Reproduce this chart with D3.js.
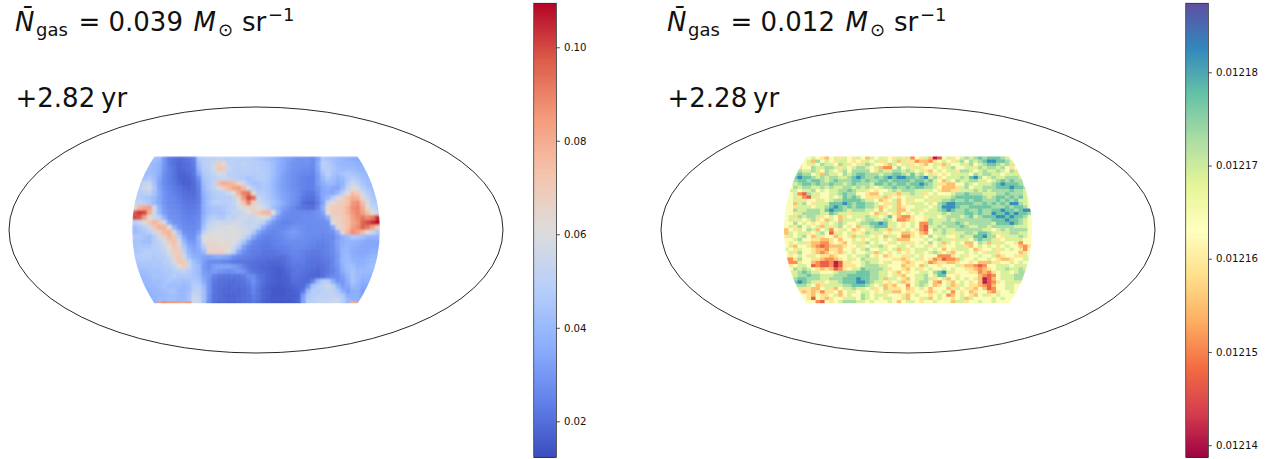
<!DOCTYPE html>
<html><head><meta charset="utf-8">
<script src="https://cdn.jsdelivr.net/npm/d3@7"></script>
<style>html,body{margin:0;padding:0;background:#fff}svg{display:block}
text{font-family:"DejaVu Sans",sans-serif;fill:#111}</style></head>
<body><svg id="c" width="1279" height="459"></svg>
<script>
// Left map: gas density in thousandths of M_sun/sr
const gasRows = [
[42,42,42,42,42,40,29,22,20,19,20,21,24,46,48,49,50,52,50,48,50,50,48,49,47,46,44,42,40,37,34,32,30,28,28,28,26,32,46,44,42,40,38,37,35,34,34,34,34,34],
[42,42,42,42,40,38,29,23,20,18,19,20,23,43,49,51,54,68,64,50,49,48,52,50,49,48,47,45,42,37,34,31,29,28,28,28,26,35,50,47,44,40,39,38,38,36,36,36,36,36],
[42,42,42,42,40,37,29,24,21,18,19,20,22,40,48,50,56,72,70,54,50,48,50,49,48,49,47,46,42,37,34,31,29,28,27,27,26,34,48,48,45,42,40,40,40,38,38,38,38,38],
[42,42,42,42,40,36,28,24,21,18,18,19,22,35,46,49,53,58,56,50,49,48,49,49,48,48,48,46,42,37,33,30,28,27,26,26,25,32,44,50,44,42,44,46,44,42,40,40,40,40],
[44,44,44,46,42,34,27,24,21,18,17,18,20,28,44,47,50,52,54,52,50,48,47,44,46,49,48,46,41,36,32,30,28,26,25,24,24,31,40,46,42,38,40,45,48,46,42,40,40,40],
[48,48,52,54,44,33,27,24,22,19,17,17,19,25,42,46,52,76,80,78,76,66,56,47,44,44,47,45,40,35,32,30,28,26,25,24,24,31,36,40,40,36,38,48,54,50,45,42,40,40],
[50,50,55,58,46,34,28,25,23,21,19,18,19,24,40,46,50,58,68,76,82,84,76,58,48,45,46,45,40,35,32,30,28,27,25,24,24,29,34,36,34,33,40,52,62,58,48,44,42,42],
[48,48,50,52,44,35,29,26,24,22,20,19,19,23,38,44,47,49,50,55,62,80,90,92,64,48,48,45,40,36,33,31,29,27,24,22,22,27,34,35,34,40,50,60,74,70,56,48,44,44],
[48,48,46,44,40,34,29,26,25,23,21,20,20,23,36,42,46,48,48,48,52,66,86,100,94,54,49,46,42,37,33,31,29,26,22,21,20,25,34,38,48,58,68,74,80,78,64,52,46,44],
[52,52,50,46,40,34,29,26,25,24,22,21,21,23,36,44,48,49,48,48,52,60,74,90,68,56,52,48,44,40,35,31,28,25,20,18,18,23,33,54,64,68,70,74,86,88,76,58,48,46],
[64,78,82,84,56,38,30,27,26,25,23,22,22,24,36,42,44,44,46,48,50,56,60,64,66,62,56,50,42,37,32,29,26,23,21,20,20,25,36,64,70,70,72,78,88,90,80,64,52,48],
[98,102,100,80,56,40,31,28,27,26,24,23,23,25,36,42,44,44,44,48,52,52,56,60,66,70,76,78,62,38,29,27,26,26,26,26,27,28,33,62,70,70,72,78,86,90,84,74,62,56],
[100,98,84,62,56,50,38,29,28,27,25,24,25,26,38,46,48,46,46,52,50,54,56,54,54,58,60,56,40,30,27,26,26,26,27,27,27,28,29,36,66,68,70,74,84,88,92,88,92,104],
[50,54,60,70,78,72,56,35,29,28,26,25,25,27,40,50,54,56,54,54,56,58,54,52,54,54,50,38,30,27,25,25,26,27,27,27,27,27,27,28,60,66,70,74,82,86,96,100,104,109],
[42,46,50,56,70,78,78,62,38,30,27,26,26,28,44,54,56,58,58,60,60,58,56,54,54,48,36,29,27,26,26,27,29,29,28,27,27,27,27,27,34,64,68,74,84,88,96,92,84,72],
[42,44,46,50,56,66,76,78,58,40,28,27,27,32,50,58,60,60,60,62,60,58,58,56,46,34,28,26,25,26,28,30,31,30,28,27,27,27,26,27,28,36,66,78,88,84,76,62,54,46],
[46,46,44,42,48,56,66,76,72,50,34,28,28,38,62,62,62,62,60,60,60,60,54,46,34,27,25,24,25,26,27,29,30,29,28,27,26,26,25,26,26,31,36,40,46,44,42,38,38,38],
[44,44,42,42,48,52,58,68,74,58,40,31,30,36,58,64,64,62,62,64,60,54,44,32,26,24,23,23,24,25,26,27,27,27,27,26,25,24,24,25,27,33,36,38,38,36,35,34,34,34],
[44,46,46,46,48,50,54,62,72,66,46,35,32,36,48,66,66,66,64,62,56,46,32,26,24,23,22,22,23,24,24,25,26,26,26,25,24,23,23,24,26,32,37,38,36,35,34,34,34,34],
[46,46,48,48,48,48,52,58,70,70,50,38,34,35,40,66,66,68,66,60,50,34,27,24,23,23,21,21,21,22,23,24,25,25,24,23,22,22,23,24,26,31,38,39,35,34,34,34,36,36],
[46,48,48,48,46,48,48,54,66,72,56,42,36,35,33,32,34,35,34,32,27,25,24,23,22,21,20,20,20,20,20,22,24,24,23,22,21,21,22,23,25,30,38,40,36,35,35,36,38,38],
[46,46,46,46,46,46,48,50,58,72,70,52,42,37,31,27,26,26,25,24,22,21,21,21,20,19,19,18,18,18,19,21,23,23,23,21,20,20,21,22,25,30,38,40,38,36,36,38,40,40],
[44,44,44,44,46,46,46,48,52,62,68,54,44,40,30,27,31,33,33,33,31,29,24,21,20,19,18,18,17,17,18,20,22,22,22,21,20,19,20,22,25,29,37,42,42,38,38,40,42,42],
[42,42,42,44,44,44,46,46,48,50,52,48,44,40,31,29,31,29,28,27,28,30,29,24,21,20,19,18,17,16,17,19,21,22,21,20,19,18,20,22,24,28,35,40,44,40,40,40,40,40],
[42,40,40,42,44,44,44,46,48,46,46,46,44,42,33,30,24,22,21,21,21,21,23,27,27,22,20,18,17,16,17,18,21,21,20,19,18,18,20,24,26,27,32,38,44,40,38,38,38,38],
[40,40,40,40,42,42,44,46,44,44,42,44,46,44,35,29,22,20,20,19,19,20,21,24,28,23,20,18,17,16,17,17,20,20,19,19,25,40,48,48,36,29,30,36,44,40,36,36,36,36],
[38,38,38,40,40,42,44,42,42,42,40,42,48,48,40,29,21,20,19,18,19,19,20,22,26,22,19,17,16,15,16,17,18,19,19,27,44,48,52,54,50,38,31,34,40,38,34,34,34,34],
[38,38,38,38,40,40,42,44,44,40,40,42,50,50,42,29,21,19,18,18,18,18,19,21,25,21,18,17,15,15,15,16,17,18,22,40,48,48,50,52,52,46,36,31,36,36,32,32,32,32],
[38,38,38,38,38,40,40,42,42,40,40,44,54,52,42,28,20,19,18,17,17,18,19,20,23,21,18,16,15,15,15,16,16,17,31,46,48,50,50,50,52,50,46,36,36,36,32,32,32,32],
[38,38,38,38,38,40,40,42,42,40,40,44,56,54,42,27,20,18,18,17,17,18,19,20,22,20,17,16,15,15,15,15,16,18,33,48,50,52,52,52,54,56,48,40,38,36,32,32,32,32]
];
// Thin bright strip along the bottom edge of the left map
const gasBottomStrip = [38,38,38,38,38,84,88,86,86,84,84,86,56,54,42,27,20,18,18,17,17,18,19,20,22,20,17,16,15,15,15,15,16,18,33,48,50,52,52,52,54,56,48,40,80,82,32,32,32,32];

// Right map: each digit is an index into noiseLevels
const noiseLevels = [0.012141,0.012147,0.012151,0.012155,0.012159,0.012164,0.012169,0.012173,0.012177,0.012182];
const noiseRows = [
"55565 56543 56465 46536 56454 64625 46301 56456 76787 88876 55555",
"55655 63756 54665 45465 64656 36442 33245 65467 57678 99887 65555",
"55665 46576 65764 54676 55436 54645 43564 36556 67567 88767 63555",
"55645 57667 76465 67765 63225 75646 45565 46755 66476 77675 45365",
"54576 67657 65675 77775 47667 76765 64356 56647 76567 66765 76555",
"56787 75637 66576 78877 76778 87686 75645 45666 65767 76656 66455",
"56898 87676 77667 89877 87898 99887 89674 56667 68975 67667 77655",
"56788 78876 78777 88787 78878 88878 87865 36576 67766 56787 87755",
"56678 87877 87767 87776 88787 88788 98764 43355 76566 67898 88765",
"55767 76676 76677 67676 56778 77878 87765 33346 75667 77888 98875",
"56656 67565 66778 76645 45567 67776 66654 33446 66767 67777 87765",
"55621 76655 66787 75543 35664 36676 64565 55677 87776 66778 77765",
"55642 16455 65687 87544 46345 45466 65646 66788 88887 67887 87865",
"55664 55665 67788 88766 53456 35645 56466 77877 87887 77878 78665",
"55367 54666 88898 78877 65446 35466 65657 89988 88778 78787 99765",
"55466 65667 89878 78877 63456 34556 66567 99987 78888 87778 78875",
"55766 77768 98876 77766 53566 33566 45667 89877 87787 78898 87899",
"55467 77766 87664 66665 36454 35456 56666 76777 88787 79889 89887",
"56676 77645 65365 66676 65685 32245 54665 67776 78678 88998 98875",
"56465 67453 65366 65677 66765 22345 54766 67677 77777 78889 88765",
"55756 54546 56765 56778 89866 54565 22766 77787 67777 76888 98765",
"56475 65636 46754 53667 88846 54565 21667 67778 76677 67777 76665",
"35465 76356 25465 34566 76636 45654 21576 76677 77776 65676 77775",
"36566 45675 14656 45476 66545 53345 32566 76466 77688 76466 77665",
"46567 53645 53454 36665 45366 52245 45756 65567 66889 77546 66765",
"55675 54433 45355 65456 65656 33355 56567 66466 65787 76456 66655",
"54566 43322 45435 46675 65546 56445 65756 36565 33576 36665 54255",
"56355 43212 33345 56456 67455 66565 56456 45566 43565 65456 55324",
"65465 54332 44355 45675 56656 36456 66565 35466 65345 56465 65425",
"56475 54323 54345 65566 36545 65456 45676 56355 65654 66455 55345",
"54565 46544 34556 56675 45345 54465 65552 22456 45565 56345 54465",
"22475 54432 23456 45766 65554 43456 45423 12236 55655 65433 45566",
"32245 53211 20144 55676 65465 54345 54234 43345 54533 34455 65655",
"34566 51211 20144 45677 76655 53445 36554 55564 33212 55666 56665",
"45767 65434 31245 66877 77645 54356 45655 65655 44323 45667 66765",
"56678 76655 56777 78887 76654 35455 66578 96455 54423 24566 56775",
"56677 87766 67778 88887 76656 43556 67568 85545 55532 12566 67776",
"66788 77766 77788 89887 76366 54356 67645 63565 65430 13566 67766",
"67898 76465 66788 89987 66545 63456 77532 54356 54530 12456 66655",
"56777 65346 66677 88876 56343 55256 76534 56346 54432 13556 65565",
"55564 43356 43566 76656 45344 45345 65355 53465 44353 12556 65655",
"55543 43424 45356 45665 45663 35445 54345 65254 53455 32455 65555",
"55655 43544 56356 55765 66455 54356 55456 52356 54356 45655 55555",
"55555 41543 45546 65765 65665 56355 46356 55456 36555 56565 55555",
"55565 55215 45677 76656 55565 35665 45565 55366 45565 56555 55555"
];

const coolwarmStops = ["#3b4cc0","#6282ea","#8db0fe","#b7cff9","#dddcdc","#f5c4ac","#f49a7b","#dc5d4a","#b40426"];
const spectralStops = ["#9e0142","#d53e4f","#f46d43","#fdae61","#fee08b","#ffffbf","#e6f598","#abdda4","#66c2a5","#3288bd","#5e4fa2"];
const gasDomain = [0.0123, 0.1094];
const noiseDomain = [0.0121387, 0.0121874];
const gasTicks = [0.02,0.04,0.06,0.08,0.10];
const noiseTicks = [0.01214,0.01215,0.01216,0.01217,0.01218];

function rampScale(domain, stops){
  return d3.scaleLinear()
    .domain(d3.quantize(d3.interpolate(domain[0],domain[1]),stops.length))
    .range(stops).interpolate(d3.interpolateRgb).clamp(true);
}
const svg = d3.select("#c");
const defs = svg.append("defs");
defs.append("filter").attr("id","soft").attr("x","-5%").attr("y","-5%").attr("width","110%").attr("height","110%")
  .append("feGaussianBlur").attr("stdDeviation",0.8);
defs.append("filter").attr("id","crisp").attr("x","-5%").attr("y","-5%").attr("width","110%").attr("height","110%")
  .append("feGaussianBlur").attr("stdDeviation",0.3);

function panel(cfg){
  const g = svg.append("g").attr("transform",`translate(${cfg.dx},0)`);
  const cx=256, cy=230;
  g.append("ellipse").attr("cx",cx).attr("cy",cy).attr("rx",247).attr("ry",123)
    .attr("fill","none").attr("stroke","#111").attr("stroke-width",0.9);
  const color = rampScale(cfg.domain,cfg.stops);
  const id="clip"+cfg.dx;
  const cp=defs.append("clipPath").attr("id",id);
  cp.append("path").attr("d",(()=>{
    const rx=124, ry=128, top=156.3, bot=303.3;
    const dyT=cy-top, dyB=bot-cy;
    const xT=rx*Math.sqrt(1-dyT*dyT/ry/ry), xB=rx*Math.sqrt(1-dyB*dyB/ry/ry);
    return `M${cx-xT},${top}L${cx+xT},${top}A${rx},${ry} 0 0 1 ${cx+xB},${bot}L${cx-xB},${bot}A${rx},${ry} 0 0 1 ${cx-xT},${top}Z`;
  })());
  const rows=cfg.rows, nR=rows.length, nC=rows[0].length;
  const x=d3.scaleBand().domain(d3.range(nC)).range([132,380]);
  const y=d3.scaleBand().domain(d3.range(nR)).range([156.3,303.3]);
  const outer=g.append("g").attr("clip-path",`url(#${id})`);
  const m=outer.append("g").attr("filter",`url(#${cfg.filter})`);
  m.selectAll("g").data(rows).join("g").selectAll("rect")
    .data((r,i)=>r.map((v,j)=>({v,i,j}))).join("rect")
    .attr("x",d=>x(d.j)).attr("y",d=>y(d.i))
    .attr("width",x.bandwidth()+0.4).attr("height",y.bandwidth()+0.4)
    .attr("fill",d=>color(d.v));
  if(cfg.strip){
    outer.selectAll("rect.strip").data(cfg.strip).join("rect").attr("class","strip")
      .attr("x",(d,j)=>x(j)).attr("y",y(nR-1)+y.bandwidth()*0.62)
      .attr("width",x.bandwidth()+0.4).attr("height",y.bandwidth()*0.38)
      .attr("fill",d=>color(d));
  }
  // colorbar
  const cb=d3.scaleLinear().domain(cfg.domain).range([457.3,3.3]);
  const cbG=g.append("g");
  const lev=d3.range(256).map(i=>cfg.domain[0]+(i+0.5)/256*(cfg.domain[1]-cfg.domain[0]));
  const step=(cfg.domain[1]-cfg.domain[0])/256;
  cbG.selectAll("rect").data(lev).join("rect")
    .attr("x",533.7).attr("width",22.7).attr("shape-rendering","crispEdges")
    .attr("y",d=>cb(d+step/2)).attr("height",d=>cb(d-step/2)-cb(d+step/2)+0.3)
    .attr("fill",d=>color(d));
  cbG.append("rect").attr("x",533.7).attr("y",3.3).attr("width",22.7).attr("height",454)
    .attr("fill","none").attr("stroke","#333").attr("stroke-width",0.8);
  const ax=g.append("g").attr("transform","translate(556.4,0)")
    .call(d3.axisRight(cb).tickValues(cfg.ticks).tickFormat(d3.format(cfg.fmt)).tickSize(3.5).tickPadding(4));
  ax.select(".domain").remove();
  ax.selectAll("line").attr("stroke","#222").attr("stroke-width",0.8);
  ax.selectAll("text").style("font-size","10.2px").attr("fill","#222");
  // annotations
  const t=g.append("text").attr("y",31).style("font-size","26px");
  const sp=(s,xp,o={})=>{const e=t.append("tspan").attr("x",xp).text(s);
    e.attr("y",31+(o.dy||0));
    if(o.size) e.style("font-size",o.size+"px");
    if(o.it) e.style("font-style","italic");
    return e;};
  sp("N\u0304",15,{it:1}); sp("gas",36,{dy:5,size:18});
  sp("=",78.5); sp(cfg.label,108.5); sp("M",193.5,{it:1});
  sp("⊙",218,{dy:5,size:18});
  sp("sr",242); sp("−1",268,{dy:-10,size:18});
  const u=g.append("text").attr("y",107).style("font-size","26px");
  u.append("tspan").attr("x",15.5).text(cfg.time);
  u.append("tspan").attr("x",101).text("yr");
}
panel({dx:0,rows:gasRows.map(r=>r.map(v=>v/1000)),strip:gasBottomStrip.map(v=>v/1000),domain:gasDomain,stops:coolwarmStops,ticks:gasTicks,fmt:".2f",label:"0.039",time:"+2.82",filter:"soft"});
panel({dx:652,rows:noiseRows.map(r=>r.replace(/ /g,"").split("").map(c=>noiseLevels[+c])),domain:noiseDomain,stops:spectralStops,ticks:noiseTicks,fmt:".5f",label:"0.012",time:"+2.28",filter:"crisp"});
</script></body></html>
